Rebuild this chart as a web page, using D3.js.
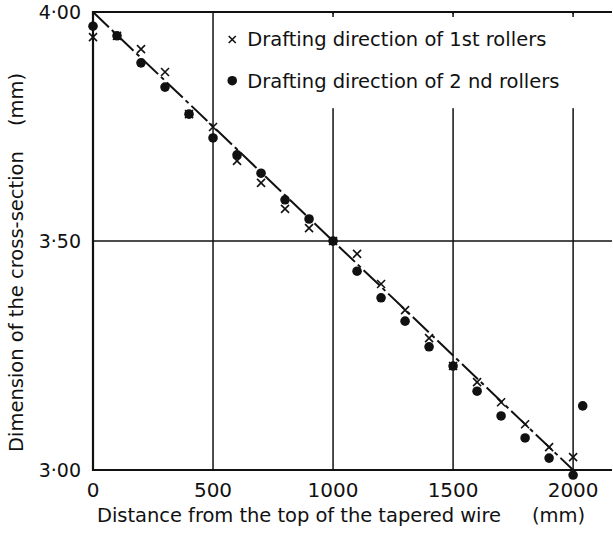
<!DOCTYPE html>
<html lang="en">
<head>
<meta charset="utf-8">
<title>Tapered wire cross-section</title>
<script src="https://cdnjs.cloudflare.com/ajax/libs/d3/7.8.5/d3.min.js"></script>
<style>
    body { margin: 0; background: #fff; }
    svg text { font-family: "DejaVu Sans", sans-serif; fill: #111; }
</style>
</head>
<body>
<div id="chart"></div>
<script>
'use strict';

// distance from the top of the wire (mm)
const distances = [0, 100, 200, 300, 400, 500, 600, 700, 800, 900, 1000,
    1100, 1200, 1300, 1400, 1500, 1600, 1700, 1800, 1900, 2000];
// drafting direction of 1st rollers (crosses)
const firstRollers = [3.945, 3.948, 3.919, 3.869, 3.777, 3.749, 3.675, 3.627, 3.570, 3.528, 3.500,
    3.472, 3.406, 3.349, 3.288, 3.227, 3.192, 3.148, 3.100, 3.050, 3.028];
// drafting direction of 2nd rollers (dots)
const secondRollers = [3.969, 3.948, 3.889, 3.836, 3.777, 3.725, 3.688, 3.648, 3.590, 3.548, 3.500,
    3.434, 3.376, 3.325, 3.269, 3.227, 3.172, 3.118, 3.070, 3.026, 2.989];
// one stray dot past the end
const extraDist = [2040];
const extraDots = [3.140];
// design line
const lineDist = [0, 2000];
const lineVals = [4.00, 3.00];

const xTicks = [0, 500, 1000, 1500, 2000];
const yTicks = [3.00, 3.50, 4.00];
const yTickLabels = ["3·00", "3·50", "4·00"];
const legendLabels = ["Drafting direction of 1st rollers", "Drafting direction of 2 nd rollers"];

const width = 613, height = 533;
const margin = {top: 12, right: 1, bottom: 63, left: 93};

const svg = d3.select("#chart").append("svg")
    .attr("width", width)
    .attr("height", height);

const x = d3.scaleLinear().domain([0, 2162]).range([margin.left, width - margin.right]);
const y = d3.scaleLinear().domain([3.00, 4.00]).range([height - margin.bottom, margin.top]);

// grid
svg.append("g").selectAll("line")
    .data(xTicks.slice(1))
    .join("line")
    .attr("x1", d => x(d)).attr("x2", d => x(d))
    .attr("y1", y(4.00)).attr("y2", y(3.00))
    .attr("stroke", "#111").attr("stroke-width", 1.5);

svg.append("line")
    .attr("x1", x(0)).attr("x2", x(2162))
    .attr("y1", y(3.50)).attr("y2", y(3.50))
    .attr("stroke", "#111").attr("stroke-width", 1.5);

// legend box masks the grid
const legend = svg.append("g");
legend.append("rect")
    .attr("x", x(530)).attr("y", y(4.00) + 2)
    .attr("width", x(2162) - x(530)).attr("height", y(3.79) - y(4.00) - 2)
    .attr("fill", "#fff");

// short ticks along the top
svg.append("g").selectAll("line")
    .data(xTicks.slice(2))
    .join("line")
    .attr("x1", d => x(d)).attr("x2", d => x(d))
    .attr("y1", y(4.00)).attr("y2", y(4.00) + 5)
    .attr("stroke", "#111").attr("stroke-width", 1.5);

// frame (open on the right)
svg.append("path")
    .attr("d", `M${x(2162)},${y(4.00)}H${x(0)}V${y(3.00)}H${x(2162)}`)
    .attr("fill", "none").attr("stroke", "#111").attr("stroke-width", 2.2);

// tick labels
svg.append("g").selectAll("text")
    .data(xTicks)
    .join("text")
    .attr("x", d => x(d)).attr("y", y(3.00) + 27)
    .attr("text-anchor", "middle")
    .attr("font-size", 20)
    .text(d => d);

svg.append("g").selectAll("text")
    .data(yTicks)
    .join("text")
    .attr("x", x(0) - 12).attr("y", d => y(d) + 7)
    .attr("text-anchor", "end")
    .attr("font-size", 19)
    .text((d, i) => yTickLabels[i]);

// axis titles
svg.append("text")
    .attr("x", 97).attr("y", height - 11)
    .attr("font-size", 19.5)
    .attr("textLength", 404)
    .attr("lengthAdjust", "spacing")
    .text("Distance from the top of the tapered wire");
svg.append("text")
    .attr("x", 532).attr("y", height - 11)
    .attr("font-size", 19.5)
    .text("(mm)");

const yTitle = svg.append("text")
    .attr("transform", "translate(23,0) rotate(-90)")
    .attr("font-size", 19.5);
yTitle.append("tspan").attr("x", -452).text("Dimension of the cross-section");
yTitle.append("tspan").attr("x", -126).text("(mm)");

// design line
svg.append("path")
    .datum(lineDist.map((d, i) => [d, lineVals[i]]))
    .attr("d", d3.line().x(d => x(d[0])).y(d => y(d[1])))
    .attr("fill", "none")
    .attr("stroke", "#111")
    .attr("stroke-width", 2)
    .attr("stroke-dasharray", "22,4,4,4");

// markers
const crossPath = s => `M${-s},${-s}L${s},${s}M${-s},${s}L${s},${-s}`;

svg.append("g").selectAll("circle")
    .data(distances.map((d, i) => [d, secondRollers[i]]).concat(extraDist.map((d, i) => [d, extraDots[i]])))
    .join("circle")
    .attr("cx", d => x(d[0])).attr("cy", d => y(d[1]))
    .attr("r", 4.8)
    .attr("fill", "#111");

svg.append("g").selectAll("path")
    .data(distances.map((d, i) => [d, firstRollers[i]]))
    .join("path")
    .attr("transform", d => `translate(${x(d[0])},${y(d[1])})`)
    .attr("d", crossPath(4))
    .attr("stroke", "#111")
    .attr("stroke-width", 1.6)
    .attr("fill", "none");

// legend entries
const lx = x(580);
legend.append("path")
    .attr("transform", `translate(${lx},${y(3.94)})`)
    .attr("d", crossPath(3.5))
    .attr("stroke", "#111").attr("stroke-width", 1.6);
legend.append("circle")
    .attr("cx", lx).attr("cy", y(3.85))
    .attr("r", 4.8).attr("fill", "#111");
legend.selectAll("text")
    .data(legendLabels)
    .join("text")
    .attr("x", lx + 15)
    .attr("y", (d, i) => y(i === 0 ? 3.94 : 3.85) + 7)
    .attr("font-size", 19.5)
    .text(d => d);
</script>
</body>
</html>
